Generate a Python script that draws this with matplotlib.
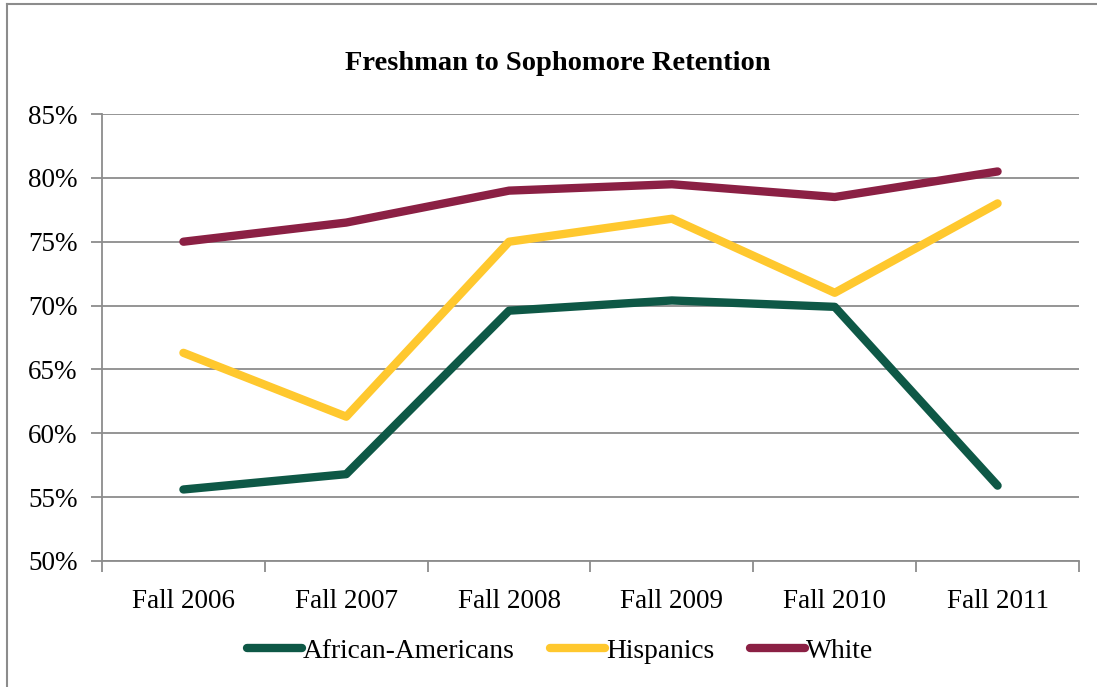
import matplotlib
matplotlib.use("Agg")
import matplotlib.pyplot as plt
from matplotlib.lines import Line2D
from matplotlib.ticker import FuncFormatter, MultipleLocator

categories = ["Fall 2006", "Fall 2007", "Fall 2008", "Fall 2009", "Fall 2010", "Fall 2011"]
african_americans = [55.6, 56.8, 69.6, 70.4, 69.9, 55.9]
hispanics = [66.3, 61.3, 75.0, 76.8, 71.0, 78.0]
white = [75.0, 76.5, 79.0, 79.5, 78.5, 80.5]

series = [("African-Americans", african_americans, "#0E5846"),
          ("Hispanics", hispanics, "#FFC82E"),
          ("White", white, "#8B2044")]

plt.rcParams['font.family'] = ['Liberation Serif', 'DejaVu Serif']

W, H = 1097, 687
fig = plt.figure(figsize=(W/100, H/100), dpi=100)
ax = fig.add_axes([102/W, 1-561/H, (1079-102)/W, (561-114)/H])

x = list(range(len(categories)))
for name, vals, col in series:
    ax.plot(x, vals, color=col, lw=6, solid_capstyle='round', solid_joinstyle='round', label=name, zorder=3)

ax.set_xlim(-0.5, len(categories)-0.5)
ax.set_ylim(50, 85)
ax.yaxis.set_major_locator(MultipleLocator(5))
ax.yaxis.set_major_formatter(FuncFormatter(lambda v, p: f"{v:.0f}%"))
ax.grid(axis='y', color='#8C8C8C', lw=1.3, zorder=1)
ax.set_xticks(x)
ax.set_xticklabels(categories)
ax.set_xticks([i-0.5 for i in range(len(categories)+1)], minor=True)
ax.tick_params(axis='x', which='major', length=0, pad=20, labelsize=19.5)
ax.tick_params(axis='x', which='minor', length=8, width=1.3, color='#8C8C8C', direction='out')
ax.tick_params(axis='y', length=8, width=1.3, color='#8C8C8C', labelsize=19.5, pad=9.5)
for s in ['top', 'right']:
    ax.spines[s].set_visible(False)
for s in ['left', 'bottom']:
    ax.spines[s].set_color('#8C8C8C')
    ax.spines[s].set_linewidth(1.3)

fig.text(558/W, 1-63/H, "Freshman to Sophomore Retention", ha='center', va='center',
         fontsize=20.5, fontweight='bold')

handles = [Line2D([0], [0], color=c, lw=6, solid_capstyle='round') for _, _, c in series]
fig.legend(handles, [n for n, _, _ in series], loc='center', bbox_to_anchor=(560/W, 1-651/H),
           ncol=3, frameon=False, fontsize=19.8, handlelength=2.0, handletextpad=0.05,
           columnspacing=1.28)

# figure border (left and top)
fig.add_artist(Line2D([7/W, 7/W], [0, 1-4/H], color='#8C8C8C', lw=1.5, transform=fig.transFigure))
fig.add_artist(Line2D([7/W, 1], [1-4/H, 1-4/H], color='#8C8C8C', lw=1.5, transform=fig.transFigure))

fig.savefig("out.png", dpi=100)
